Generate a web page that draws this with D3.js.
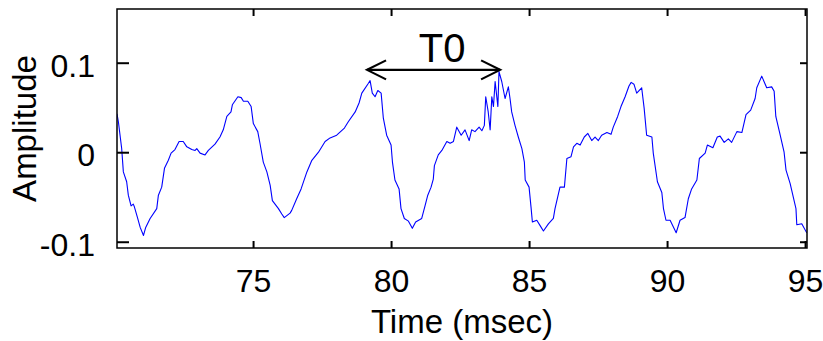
<!DOCTYPE html>
<html>
<head>
<meta charset="utf-8">
<script src="https://cdn.jsdelivr.net/npm/d3@7"></script>
<style>
  html, body { margin: 0; padding: 0; background: #fff; }
  text { font-family: "Liberation Sans", Arial, sans-serif; fill: #000; }
</style>
</head>
<body>
<div id="chart"></div>
<script>
// signal samples (time in ms, amplitude)
const time = [
  70.07, 70.12, 70.24, 70.30, 70.42, 70.48, 70.58, 70.66, 70.70, 70.82,
  70.91, 71.03, 71.11, 71.27, 71.51, 71.57, 71.69, 71.79, 71.93, 72.03,
  72.17, 72.32, 72.47, 72.60, 72.78, 72.90, 72.96, 73.08, 73.26, 73.38,
  73.62, 73.80, 73.92, 74.05, 74.20, 74.25, 74.45, 74.57, 74.65, 74.81,
  74.93, 75.01, 75.17, 75.25, 75.37, 75.50, 75.62, 75.70, 75.92, 76.04,
  76.13, 76.34, 76.40, 76.58, 76.74, 76.95, 77.13, 77.37, 77.61, 77.79,
  78.03, 78.31, 78.45, 78.70, 78.84, 78.94, 79.18, 79.24, 79.32, 79.42,
  79.52, 79.64, 79.72, 79.84, 80.00, 80.05, 80.14, 80.29, 80.36, 80.48,
  80.63, 80.77, 80.89, 81.11, 81.23, 81.33, 81.45, 81.53, 81.57, 81.71,
  81.84, 82.02, 82.14, 82.26, 82.38, 82.54, 82.68, 82.83, 82.92, 83.04,
  83.19, 83.29, 83.38, 83.43, 83.52, 83.59, 83.65, 83.71, 83.77, 83.87,
  83.91, 84.01, 84.13, 84.25, 84.31, 84.37, 84.49, 84.61, 84.74, 84.83,
  84.86, 85.00, 85.07, 85.12, 85.28, 85.40, 85.52, 85.70, 85.88, 85.94,
  86.12, 86.28, 86.37, 86.52, 86.61, 86.73, 86.85, 87.00, 87.13, 87.27,
  87.39, 87.51, 87.63, 87.82, 87.97, 88.05, 88.21, 88.33, 88.48, 88.62,
  88.70, 88.80, 88.90, 89.08, 89.17, 89.26, 89.45, 89.50, 89.65, 89.81,
  89.87, 89.96, 90.11, 90.33, 90.47, 90.65, 90.77, 90.89, 91.08, 91.17,
  91.38, 91.46, 91.66, 91.82, 91.92, 92.07, 92.22, 92.34, 92.53, 92.71,
  92.86, 93.03, 93.19, 93.25, 93.43, 93.61, 93.79, 93.88, 93.94, 94.07,
  94.24, 94.31, 94.46, 94.67, 94.70, 94.88, 95.06
];
const amplitude = [
  0.043, 0.034, 0.004, -0.022, -0.033, -0.048, -0.060, -0.058, -0.061, -0.074,
  -0.084, -0.093, -0.084, -0.074, -0.063, -0.048, -0.039, -0.018, -0.009, -0.001,
  0.003, 0.012, 0.012, 0.006, 0.003, 0.002, 0.004, -0.001, -0.003, 0.002,
  0.009, 0.017, 0.025, 0.040, 0.045, 0.053, 0.062, 0.061, 0.057, 0.057,
  0.051, 0.032, 0.023, 0.010, -0.011, -0.022, -0.037, -0.054, -0.063, -0.069,
  -0.073, -0.068, -0.065, -0.052, -0.041, -0.022, -0.009, 0.000, 0.012, 0.016,
  0.019, 0.027, 0.034, 0.045, 0.055, 0.066, 0.077, 0.080, 0.066, 0.062,
  0.069, 0.066, 0.038, 0.019, 0.008, -0.011, -0.031, -0.041, -0.063, -0.074,
  -0.077, -0.085, -0.078, -0.074, -0.060, -0.048, -0.039, -0.030, -0.015, -0.003,
  0.002, 0.012, 0.010, 0.012, 0.028, 0.019, 0.025, 0.013, 0.025, 0.023,
  0.028, 0.024, 0.030, 0.062, 0.045, 0.025, 0.062, 0.051, 0.079, 0.051,
  0.090, 0.079, 0.060, 0.073, 0.060, 0.045, 0.030, 0.017, 0.004, -0.011,
  -0.031, -0.039, -0.061, -0.078, -0.076, -0.082, -0.088, -0.080, -0.074, -0.063,
  -0.039, -0.039, -0.007, -0.005, 0.006, 0.010, 0.008, 0.017, 0.021, 0.013,
  0.017, 0.013, 0.019, 0.022, 0.020, 0.028, 0.040, 0.051, 0.062, 0.074,
  0.078, 0.076, 0.066, 0.072, 0.049, 0.019, 0.017, -0.001, -0.033, -0.045,
  -0.063, -0.076, -0.076, -0.090, -0.076, -0.073, -0.052, -0.041, -0.031, -0.007,
  -0.001, 0.008, 0.005, 0.017, 0.018, 0.011, 0.015, 0.011, 0.023, 0.022,
  0.042, 0.047, 0.060, 0.072, 0.085, 0.072, 0.073, 0.068, 0.040, 0.023,
  0.000, -0.020, -0.035, -0.063, -0.081, -0.080, -0.090
];

const xTicks = [75, 80, 85, 90, 95];
const yTicks = [-0.1, 0, 0.1];
const yTickLabels = ["-0.1", "0", "0.1"];
const xDomain = [70.07, 95.07];
const yDomain = [-0.107, 0.16];

// T0 annotation (period between two peaks)
const t0Start = 79.13;
const t0End = 83.95;
const t0Level = 0.092;
const t0Label = "T0";
const t0LabelX = 81.85;

const width = 823, height = 341;
const marginLeft = 117, marginRight = 16, marginTop = 9, marginBottom = 93;

const xScale = d3.scaleLinear(xDomain, [marginLeft, width - marginRight]);
const yScale = d3.scaleLinear(yDomain, [height - marginBottom, marginTop]);

const svg = d3.select("#chart").append("svg")
    .attr("width", width)
    .attr("height", height)
    .attr("viewBox", [0, 0, width, height]);

svg.append("defs").append("clipPath")
    .attr("id", "plotClip")
  .append("rect")
    .attr("x", marginLeft)
    .attr("y", marginTop)
    .attr("width", width - marginLeft - marginRight)
    .attr("height", height - marginTop - marginBottom);

// signal
const line = d3.line()
    .x((d, i) => xScale(time[i]))
    .y(d => yScale(d));

svg.append("path")
    .attr("clip-path", "url(#plotClip)")
    .attr("fill", "none")
    .attr("stroke", "#0000ff")
    .attr("stroke-width", 1.1)
    .attr("stroke-linejoin", "round")
    .attr("d", line(amplitude));

// axes, MATLAB style: ticks pointing inward on all four sides
const tickLen = 7;
svg.append("g")
    .attr("transform", `translate(0,${height - marginBottom})`)
    .call(d3.axisBottom(xScale).tickValues(xTicks).tickSize(-tickLen).tickSizeOuter(0).tickPadding(tickLen + 14))
    .call(g => g.select(".domain").remove())
    .call(g => g.selectAll(".tick line").attr("stroke-width", 2))
    .call(g => g.selectAll(".tick text").attr("font-size", 32).attr("font-family", "Liberation Sans, Arial, sans-serif"));

svg.append("g")
    .attr("transform", `translate(0,${marginTop})`)
    .call(d3.axisTop(xScale).tickValues(xTicks).tickSize(-tickLen).tickFormat(""))
    .call(g => g.select(".domain").remove())
    .call(g => g.selectAll(".tick line").attr("stroke-width", 2));

svg.append("g")
    .attr("transform", `translate(${marginLeft},0)`)
    .call(d3.axisLeft(yScale).tickValues(yTicks).tickSize(-12).tickPadding(22)
        .tickFormat((d, i) => yTickLabels[i]))
    .call(g => g.select(".domain").remove())
    .call(g => g.selectAll(".tick line").attr("stroke-width", 2))
    .call(g => g.selectAll(".tick text")
        .attr("font-size", 32)
        .attr("font-family", "Liberation Sans, Arial, sans-serif")
        .attr("dy", "0.42em"));

svg.append("g")
    .attr("transform", `translate(${width - marginRight},0)`)
    .call(d3.axisRight(yScale).tickValues(yTicks).tickSize(-tickLen).tickFormat(""))
    .call(g => g.select(".domain").remove())
    .call(g => g.selectAll(".tick line").attr("stroke-width", 2));

// box
svg.append("rect")
    .attr("x", marginLeft)
    .attr("y", marginTop)
    .attr("width", width - marginLeft - marginRight)
    .attr("height", height - marginTop - marginBottom)
    .attr("fill", "none")
    .attr("stroke", "#000")
    .attr("stroke-width", 1.5);

// axis labels
svg.append("text")
    .attr("x", (marginLeft + width - marginRight) / 2)
    .attr("y", 333)
    .attr("text-anchor", "middle")
    .attr("font-size", 33)
    .text("Time (msec)");

svg.append("text")
    .attr("transform", `translate(36,${(marginTop + height - marginBottom) / 2}) rotate(-90)`)
    .attr("text-anchor", "middle")
    .attr("font-size", 33)
    .text("Amplitude");

// T0 double arrow
const ax0 = xScale(t0Start), ax1 = xScale(t0End), ay = yScale(t0Level);
const head = 19, spread = 9.5;
const arrow = svg.append("g")
    .attr("fill", "none")
    .attr("stroke", "#000")
    .attr("stroke-width", 2.2);
arrow.append("line").attr("x1", ax0).attr("x2", ax1).attr("y1", ay).attr("y2", ay);
arrow.append("path").attr("d", `M${ax0 + head},${ay - spread}L${ax0},${ay}L${ax0 + head},${ay + spread}`);
arrow.append("path").attr("d", `M${ax1 - head},${ay - spread}L${ax1},${ay}L${ax1 - head},${ay + spread}`);

svg.append("text")
    .attr("x", xScale(t0LabelX))
    .attr("y", ay - 8)
    .attr("text-anchor", "middle")
    .attr("font-size", 40)
    .text(t0Label);
</script>
</body>
</html>
